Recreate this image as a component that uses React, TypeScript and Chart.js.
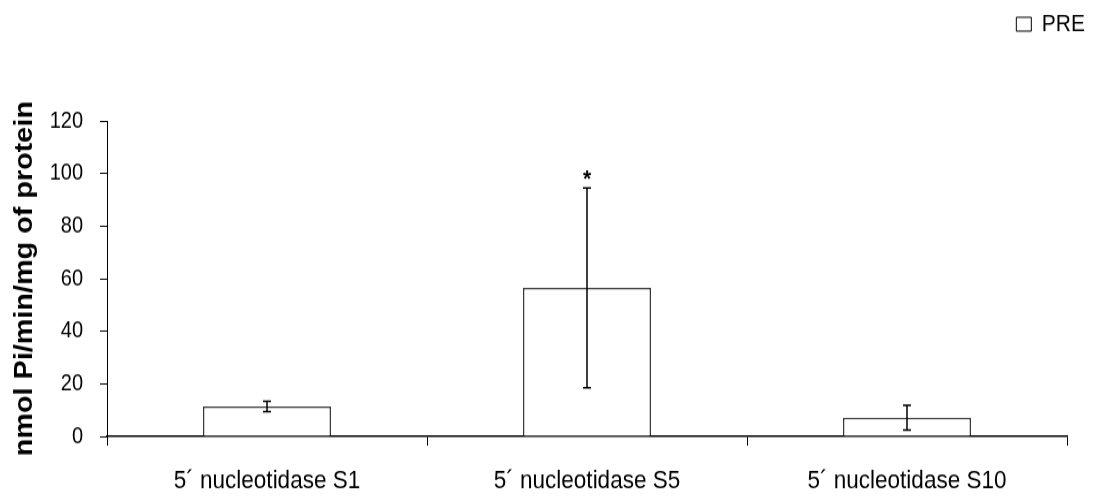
import React, { useEffect, useRef } from "react";
import { Chart, registerables } from "chart.js";

Chart.register(...registerables);

// Mean activity per fraction and its standard deviation
const categories = ["5´ nucleotidase S1", "5´ nucleotidase S5", "5´ nucleotidase S10"];
const preMeans = [11.4, 56.5, 7.1];
const preErrors = [2.0, 38.0, 4.7];
const significance = ["", "*", ""];
const yTicks = [0, 20, 40, 60, 80, 100, 120];

const FONT = "'Liberation Sans', Arial, sans-serif";

// The figure is drawn on a shorter canvas and stretched vertically by CSS,
// which gives the tall, narrow lettering of the original figure.
const WIDTH = 1093;
const DRAW_HEIGHT = 436;
const SHOWN_HEIGHT = 502;

// Draws the SD whiskers and significance marks on top of the bars
const errorBarPlugin = {
  id: "errorBars",
  afterDatasetsDraw(chart: any) {
    const { ctx, scales } = chart;
    const meta = chart.getDatasetMeta(0);
    const y = scales.y;
    ctx.save();
    meta.data.forEach((bar: any, i: number) => {
      const x = bar.x;
      const hi = y.getPixelForValue(preMeans[i] + preErrors[i]);
      const lo = y.getPixelForValue(preMeans[i] - preErrors[i]);
      ctx.strokeStyle = "#000";
      ctx.lineWidth = 1.5;
      ctx.beginPath();
      ctx.moveTo(x, hi);
      ctx.lineTo(x, lo);
      ctx.moveTo(x - 4, hi);
      ctx.lineTo(x + 4, hi);
      ctx.moveTo(x - 4, lo);
      ctx.lineTo(x + 4, lo);
      ctx.stroke();
      if (significance[i]) {
        ctx.fillStyle = "#000";
        ctx.font = `bold 21px ${FONT}`;
        ctx.textAlign = "center";
        ctx.textBaseline = "alphabetic";
        ctx.fillText(significance[i], x, hi - 1);
      }
    });
    ctx.restore();
  },
};

export default function App() {
  const ref = useRef<HTMLCanvasElement>(null);

  useEffect(() => {
    if (!ref.current) return;
    const chart = new Chart(ref.current, {
      type: "bar",
      data: {
        labels: categories,
        datasets: [
          {
            label: "PRE",
            data: preMeans,
            backgroundColor: "#ffffff",
            borderColor: "#3a3a3a",
            borderWidth: 1.5,
            barPercentage: 0.4,
            categoryPercentage: 1,
          },
        ],
      },
      options: {
        responsive: false,
        animation: false,
        layout: { padding: { left: 10, right: 1, top: 3.5, bottom: 4 } },
        plugins: {
          legend: {
            position: "top",
            align: "end",
            labels: {
              boxWidth: 15,
              boxHeight: 12,
              padding: 7,
              color: "#000",
              font: { family: FONT, size: 21 },
              generateLabels: () => [
                {
                  text: "PRE",
                  fillStyle: "#ffffff",
                  strokeStyle: "#000",
                  lineWidth: 1,
                  fontColor: "#000",
                  datasetIndex: 0,
                } as any,
              ],
            },
          },
          // empty band between the legend and the plot
          title: {
            display: true,
            text: "",
            position: "top",
            weight: 100,
            font: { size: 10 },
            padding: { top: 0, bottom: 51.5 },
          },
          tooltip: { enabled: false },
        },
        scales: {
          x: {
            offset: true,
            grid: {
              offset: true,
              drawOnChartArea: false,
              drawTicks: true,
              tickLength: 8,
              color: "#000",
            },
            border: { color: "#000", width: 1.5 },
            ticks: {
              color: "#000",
              padding: 17.6,
              font: { family: FONT, size: 22.5 },
            },
            afterFit: (axis: any) => {
              axis.height = 53;
            },
          },
          y: {
            min: 0,
            max: 120,
            afterBuildTicks: (axis: any) => {
              axis.ticks = yTicks.map((v) => ({ value: v }));
            },
            grid: {
              drawOnChartArea: false,
              drawTicks: true,
              tickLength: 7,
              color: "#000",
            },
            border: { color: "#000", width: 1 },
            ticks: {
              color: "#000",
              padding: 17,
              font: { family: FONT, size: 20 },
            },
            title: {
              display: true,
              text: "nmol Pi/min/mg of protein",
              color: "#000",
              font: { family: FONT, size: 25, weight: "bold" },
              padding: { top: 0, bottom: 0 },
            },
            afterFit: (axis: any) => {
              axis.width = 97;
            },
          },
          // blank margin on the right of the plot
          yRight: {
            position: "right",
            display: true,
            grid: { display: false },
            border: { display: false },
            ticks: { display: false },
            afterFit: (axis: any) => {
              axis.width = 25;
            },
          },
        },
      },
      plugins: [errorBarPlugin],
    });
    return () => chart.destroy();
  }, []);

  return (
    <canvas
      ref={ref}
      width={WIDTH}
      height={DRAW_HEIGHT}
      style={{
        position: "absolute",
        left: 0,
        top: 0,
        display: "block",
        width: `${WIDTH}px`,
        height: `${SHOWN_HEIGHT}px`,
      }}
    />
  );
}
